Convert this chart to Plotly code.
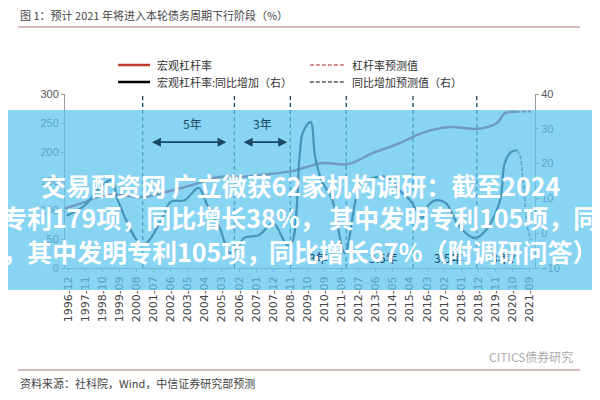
import plotly.graph_objects as go

lev_dates = ["1996-10","1997-11","1998-06","1999-07","2000-12","2002-03","2003-08","2005-01","2006-02","2007-03","2008-12","2010-08","2011-12","2013-04","2014-09","2015-12","2017-05","2018-12","2019-12","2020-05","2020-12"]
lev_vals = [103,114,122,126,122,131,143,157,157,160,167,181,179,198,215,233,243,240,250,267,269]
lev_fc_dates = ["2020-12","2021-10"]
lev_fc_vals = [269,270]

yoy_dates = ["1996-11","1997-11","1998-07","1999-04","1999-08","2000-12","2001-12","2002-06","2003-03","2003-12","2004-05","2005-02","2005-08","2006-01","2006-05","2007-03","2007-12","2008-09","2008-12","2009-05","2009-07","2009-12","2010-03","2010-07","2011-02","2011-10","2012-08","2012-12","2014-01","2014-09","2015-04","2015-12","2016-04","2016-09","2017-03","2017-12","2018-10","2019-05","2020-02","2020-05","2020-09","2021-01"]
yoy_vals = [5,8.1,12.4,15.3,9.5,-3.4,3.8,9,9.5,13,8.7,0.9,-5.7,-4.3,-1.4,-0.5,2.9,-3.4,-2.8,22,28.8,32,22,15.3,9.5,-5.7,14.4,15.3,16.2,12.4,9.5,4.4,8.1,9.5,8.7,1.8,-1.4,0.9,9.5,20.2,23.3,23.9]
yoy_fc_dates = ["2021-01","2021-03","2021-05","2021-08","2021-10"]
yoy_fc_vals = [23.9,22,14.4,0.9,-2]

tick_labels = ["1996-12","1997-11","1998-10","1999-09","2000-08","2001-07","2002-06","2003-05","2004-04","2005-03","2006-02","2007-01","2007-12","2008-11","2009-10","2010-09","2011-08","2012-07","2013-06","2014-05","2015-04","2016-03","2017-02","2018-01","2018-12","2019-11","2020-10","2021-09"]
cycle_lines = ["2000-12","2005-11","2008-11","2011-11","2015-06","2018-11"]

RED = "#a8324a"
NAVY = "#0e1f33"
TEAL = "#1a4866"
FONT = "Noto Sans CJK SC"

fig = go.Figure()
fig.add_trace(go.Scatter(x=lev_dates, y=lev_vals, mode="lines", line=dict(color=RED, width=2.5, shape="spline")))
fig.add_trace(go.Scatter(x=lev_fc_dates, y=lev_fc_vals, mode="lines", line=dict(color=RED, width=2, dash="4px,2px")))
fig.add_trace(go.Scatter(x=yoy_dates, y=yoy_vals, mode="lines", yaxis="y2", line=dict(color=NAVY, width=2.2, shape="spline")))
fig.add_trace(go.Scatter(x=yoy_fc_dates, y=yoy_fc_vals, mode="lines", yaxis="y2", line=dict(color="#555", width=1.5, dash="4px,2px", shape="spline")))

shapes = []
for d in cycle_lines:
    shapes.append(dict(type="line", xref="x", yref="paper", x0=d, x1=d, y0=0, y1=1.0, line=dict(color=TEAL, width=1.3, dash="4px,3px")))
shapes.append(dict(type="line", xref="paper", yref="paper", x0=-0.1, x1=1.096, y0=1.385, y1=1.385, line=dict(color="#c9a3a3", width=1.5)))
shapes.append(dict(type="line", xref="paper", yref="paper", x0=-0.1, x1=1.096, y0=-0.586, y1=-0.586, line=dict(color="#c9a3a3", width=1.5)))
shapes.append(dict(type="line", xref="paper", yref="paper", x0=0.113, x1=0.181, y0=1.167, y1=1.167, line=dict(color="#c0392b", width=2.5)))
shapes.append(dict(type="line", xref="paper", yref="paper", x0=0.113, x1=0.181, y0=1.069, y1=1.069, line=dict(color="black", width=2.5)))
shapes.append(dict(type="line", xref="paper", yref="paper", x0=0.521, x1=0.596, y0=1.167, y1=1.167, line=dict(color="#d06a6a", width=1.5, dash="4px,2px")))
shapes.append(dict(type="line", xref="paper", yref="paper", x0=0.521, x1=0.596, y0=1.069, y1=1.069, line=dict(color="#555", width=1.5, dash="4px,2px")))
shapes.append(dict(type="rect", xref="paper", yref="paper", x0=-0.2, x1=1.2, y0=-0.126, y1=0.908, layer="above", line=dict(width=0), fillcolor="rgba(90,195,238,0.72)"))

ann = []
def pa(x, y, t, font, xa="left"):
    ann.append(dict(xref="paper", yref="paper", x=x, y=y, text=t, showarrow=False, xanchor=xa, yanchor="middle", font=font))

pa(-0.1, 1.454, "图 1：预计 2021 年将进入本轮债务周期下行阶段（%）", dict(size=11, color="#444", family=FONT))
for x, y, t in [(0.191, 1.167, "宏观杠杆率"), (0.191, 1.069, "宏观杠杆率:同比增加（右）"), (0.606, 1.167, "杠杆率预测值"), (0.606, 1.069, "同比增加预测值（右）")]:
    pa(x, y, t, dict(size=11, color="#333", family=FONT))
pa(-0.1, -0.661, "资料来源：社科院，Wind，中信证券研究部预测", dict(size=11, color="#444", family=FONT))
pa(1.085, -0.511, "CITICS债券研究", dict(size=12, color="#aaa", family=FONT), "right")

ann.append(dict(x="2003-08", y=250, text="5年", showarrow=False, font=dict(size=12, color=TEAL, family=FONT)))
ann.append(dict(x="2007-05", y=250, text="3年", showarrow=False, font=dict(size=12, color=TEAL, family=FONT)))
for a, b in [("2001-05", "2005-06"), ("2006-04", "2008-09")]:
    ann.append(dict(x=b, y=217, ax=a, ay=217, axref="x", ayref="y", xref="x", yref="y", text="", showarrow=True, arrowhead=2, arrowside="end+start", arrowwidth=1.8, arrowcolor=TEAL))
for d, t in [("2010-05", "3年"), ("2013-11", "3.5年"), ("2017-05", "3.5年"), ("2020-04", "3年?")]:
    ann.append(dict(x=d, y=-7, yref="y2", text=t, showarrow=False, font=dict(size=12, color=TEAL, family=FONT)))

bf = dict(size=25, color="white", family=FONT, weight="bold")
pa(0.5, 0.477, "交易配资网 广立微获62家机构调研：截至2024", bf, "center")
pa(-0.138, 0.293, "专利179项，同比增长38%，", bf)
pa(1.138, 0.293, "其中发明专利105项，同", bf, "right")
pa(-0.138, 0.098, "，其中发明专利105项，", bf)
pa(1.138, 0.098, "同比增长67%（附调研问答）", bf, "right")

axis_font = dict(size=11, color="#555", family="Liberation Sans")
fig.update_layout(
    width=600, height=400, showlegend=False,
    margin=dict(l=57, r=73, t=86, b=140),
    paper_bgcolor="white", plot_bgcolor="white",
    xaxis=dict(range=["1996-10-01", "2021-12-15"], tickvals=tick_labels, ticktext=tick_labels, tickangle=-90,
               showgrid=False, showline=True, linecolor="#999", ticks="outside", ticklen=3, tickcolor="#999",
               tickfont=dict(size=11, color="#444", family="DejaVu Sans")),
    yaxis=dict(range=[0, 300], dtick=50, showgrid=False, showline=True, linecolor="#999", ticks="outside", ticklen=3, tickcolor="#999", tickfont=axis_font, zeroline=False),
    yaxis2=dict(range=[-10, 40], dtick=10, overlaying="y", side="right", showgrid=False, showline=True, linecolor="#999", ticks="outside", ticklen=3, tickcolor="#999", tickfont=axis_font, zeroline=False),
    shapes=shapes, annotations=ann,
)
fig.write_html("out.html")
